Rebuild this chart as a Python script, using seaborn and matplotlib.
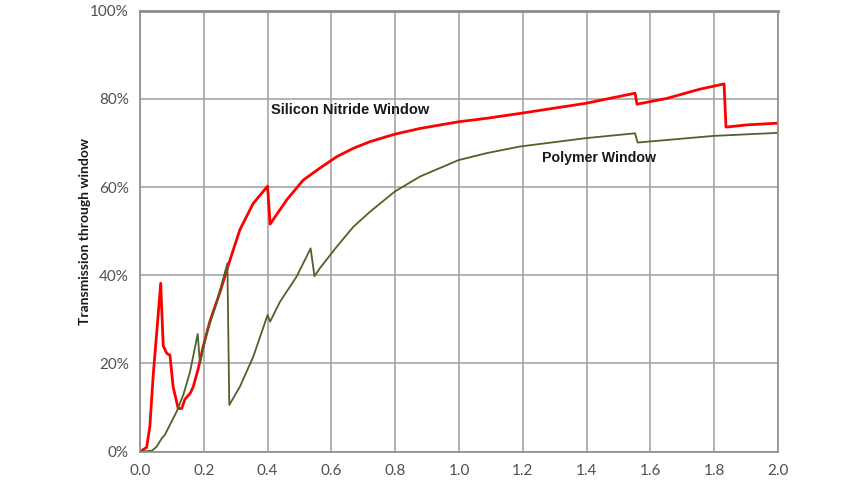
import pandas as pd
import matplotlib.pyplot as plt
import seaborn as sns

# values (x in keV-ish units, y in %)
si_x = [0.0, 0.005, 0.021, 0.031, 0.042, 0.054, 0.065, 0.073, 0.084, 0.094, 0.104,
        0.120, 0.131, 0.141, 0.157, 0.167, 0.183, 0.198, 0.219, 0.251, 0.277, 0.313,
        0.355, 0.400, 0.408, 0.460, 0.512, 0.564, 0.617, 0.669, 0.721, 0.799, 0.878,
        0.998, 1.087, 1.191, 1.398, 1.552, 1.558, 1.651, 1.755, 1.831, 1.837, 1.902, 2.0]
si_y = [0.0, 0.2, 1.0, 5.7, 17.8, 28.3, 38.2, 24.0, 22.3, 21.9, 14.7,
        9.8, 9.8, 11.9, 13.2, 14.7, 18.9, 23.8, 29.5, 36.2, 42.3, 50.3,
        56.3, 60.2, 51.6, 57.1, 61.6, 64.3, 66.9, 68.8, 70.3, 72.0, 73.3,
        74.8, 75.6, 76.7, 79.0, 81.3, 78.8, 80.1, 82.2, 83.4, 73.6, 74.1, 74.5]

poly_x = [0.0, 0.037, 0.052, 0.068, 0.078, 0.094, 0.115, 0.136, 0.157, 0.181, 0.188,
          0.209, 0.240, 0.274, 0.280, 0.313, 0.355, 0.400, 0.408, 0.439, 0.491, 0.535,
          0.547, 0.564, 0.617, 0.669, 0.721, 0.799, 0.878, 0.998, 1.087, 1.191, 1.398,
          1.552, 1.560, 1.797, 2.0]
poly_y = [0.0, 0.2, 1.1, 3.0, 3.8, 6.1, 9.1, 12.9, 18.1, 26.7, 20.0,
          26.8, 33.7, 42.7, 10.6, 14.7, 21.5, 31.0, 29.5, 34.0, 39.7, 46.1,
          39.8, 41.6, 46.5, 51.0, 54.4, 59.0, 62.4, 66.1, 67.7, 69.2, 71.1,
          72.2, 70.1, 71.6, 72.3]

x_ticks = [0.0, 0.2, 0.4, 0.6, 0.8, 1.0, 1.2, 1.4, 1.6, 1.8, 2.0]
x_labels = ['0.0', '0.2', '0.4', '0.6', '0.8', '1.0', '1.2', '1.4', '1.6', '1.8', '2.0']
y_ticks = [0, 20, 40, 60, 80, 100]
y_labels = ['0%', '20%', '40%', '60%', '80%', '100%']

df = pd.concat([
    pd.DataFrame({'x': si_x, 'y': si_y, 'window': 'Silicon Nitride Window'}),
    pd.DataFrame({'x': poly_x, 'y': poly_y, 'window': 'Polymer Window'}),
], ignore_index=True)

sns.set_style("white")
plt.rcParams['font.family'] = ['Lato', 'DejaVu Sans']

fig = plt.figure(figsize=(8.65, 4.86), dpi=100)
ax = fig.add_axes([0.1618, 0.0706, 0.7376, 0.9074])

sns.lineplot(data=df, x='x', y='y', hue='window', estimator=None, sort=False,
             palette={'Silicon Nitride Window': '#ff0000', 'Polymer Window': '#4f6228'},
             size='window', sizes={'Silicon Nitride Window': 2.0, 'Polymer Window': 1.3},
             legend=False, ax=ax)

ax.set_xlim(0, 2.0)
ax.set_ylim(0, 100)
ax.set_xticks(x_ticks)
ax.set_xticklabels(x_labels)
ax.set_xticks([i * 0.04 for i in range(51)], minor=True)
ax.set_yticks(y_ticks)
ax.set_yticklabels(y_labels)
ax.grid(True, which='major', color='#a6a6a6', linewidth=1.2)
ax.tick_params(axis='x', which='both', direction='in', length=4, color='#8c8c8c',
               labelsize=11, labelcolor='#505050', pad=9)
ax.tick_params(axis='y', which='major', direction='out', length=4, color='#8c8c8c',
               labelsize=11, labelcolor='#505050', pad=4)
for s in ax.spines.values():
    s.set_color('#8c8c8c')
    s.set_linewidth(1.2)
ax.spines['top'].set_linewidth(2.0)

ax.set_xlabel('')
ax.set_ylabel('Transmission through window', fontsize=10, fontweight='bold',
              color='#1a1a1a', labelpad=-1)

ax.text(0.412, 77.5, 'Silicon Nitride Window', fontsize=10.5, fontweight='bold',
        family=['Liberation Sans', 'DejaVu Sans'], color='#1a1a1a', va='center')
ax.text(1.259, 66.5, 'Polymer Window', fontsize=10.2, fontweight='bold',
        family=['Liberation Sans', 'DejaVu Sans'], color='#1a1a1a', va='center')

fig.savefig('out.png', dpi=100)
